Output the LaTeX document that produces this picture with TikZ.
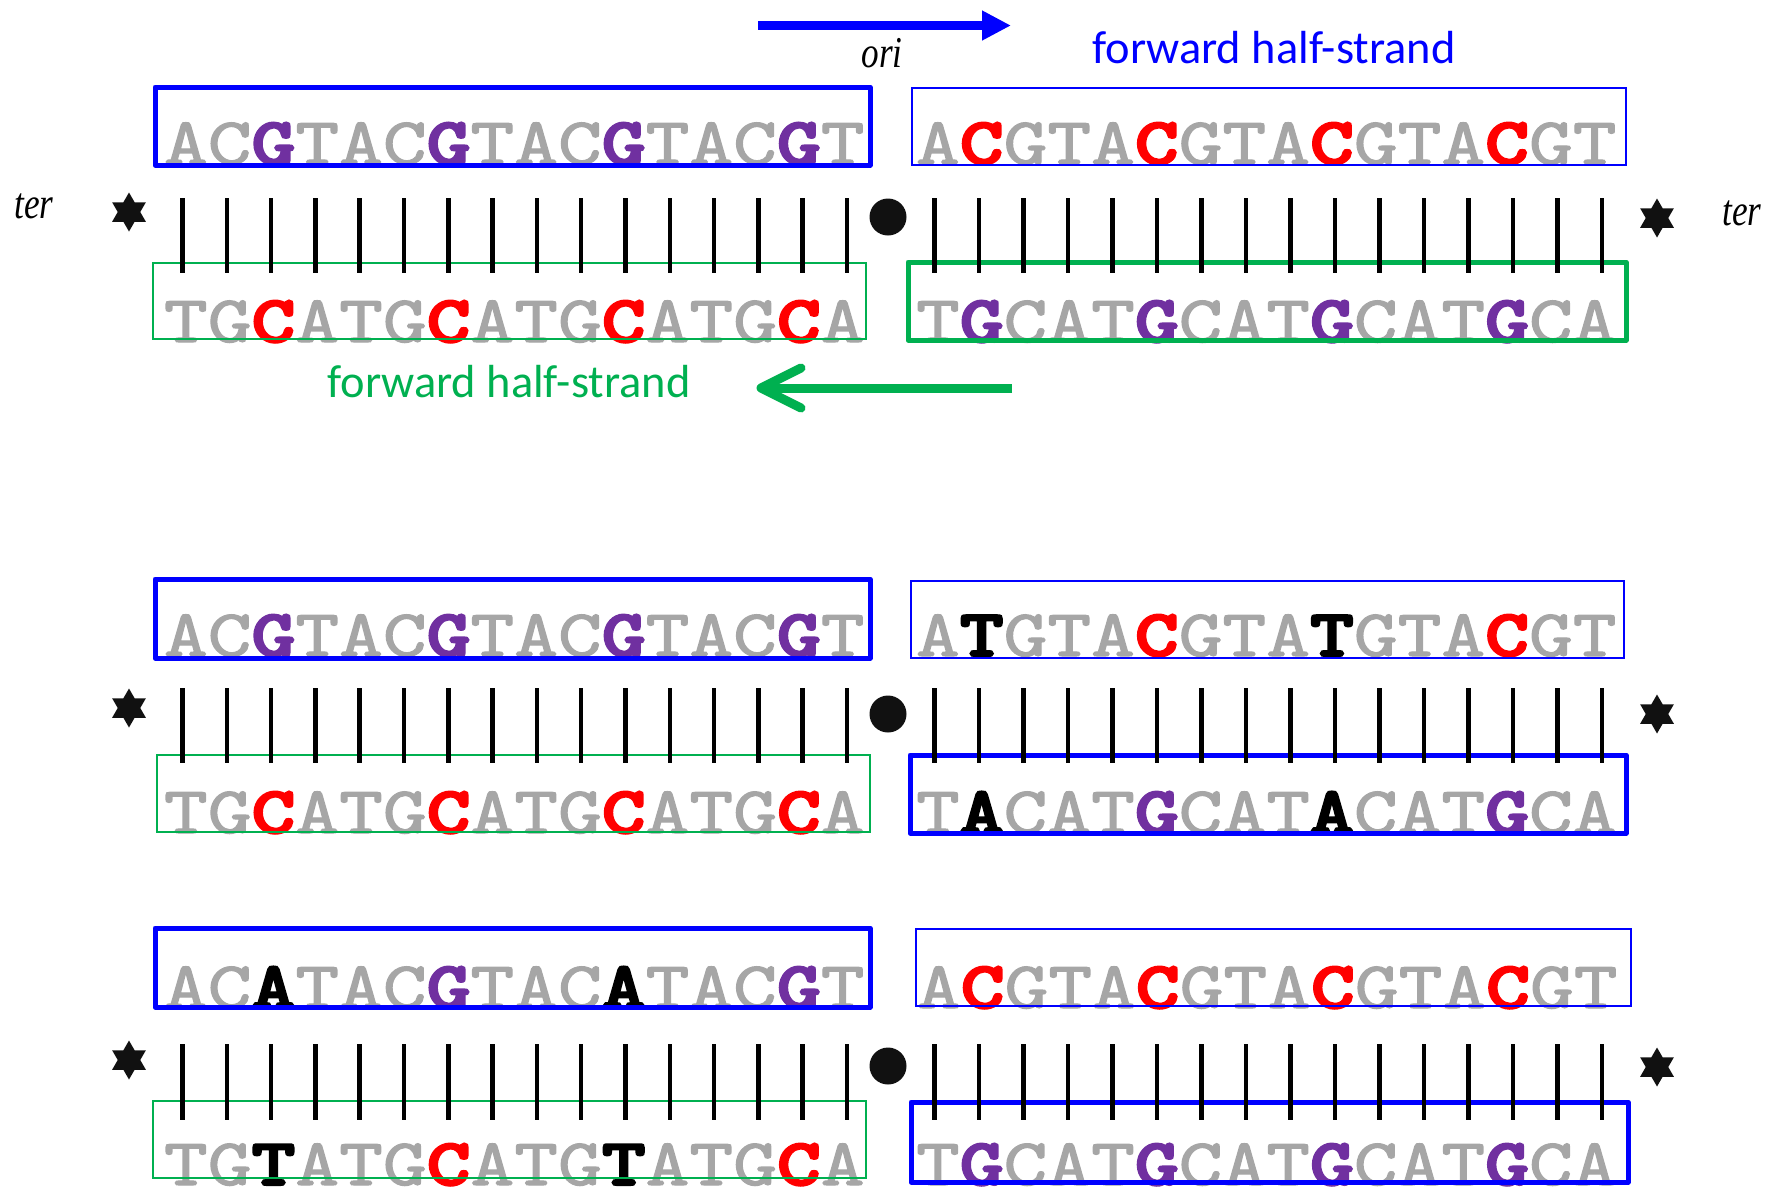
\documentclass[tikz,border=0pt]{standalone}
\usepackage{fontspec}
\usetikzlibrary{shapes.geometric,arrows.meta}
\newfontfamily\seqreg[FakeBold=1.6]{lmmono10-regular.otf}
\newfontfamily\seqbf[FakeBold=3]{lmmonolt10-bold.otf}
\newfontfamily\labfont{Carlito}
\newfontfamily\itlab{Liberation Serif Italic}
\definecolor{seqgrey}{HTML}{A6A6A6}
\definecolor{seqpurple}{HTML}{7030A0}
\definecolor{seqred}{HTML}{FF0000}
\definecolor{seqblue}{HTML}{0000FF}
\definecolor{seqgreen}{HTML}{00B050}
\definecolor{markblack}{HTML}{111111}
\newcommand\sP[1]{{\seqbf\color{seqpurple}#1}}
\newcommand\sR[1]{{\seqbf\color{seqred}#1}}
\newcommand\sK[1]{{\seqbf\color{black}#1}}
\newcommand\seqtext[1]{\scalebox{1}[0.8]{#1}}
\tikzset{
  seq/.style={inner sep=0pt, outer sep=0pt, anchor=base west, text=seqgrey,
    font=\seqreg\fontsize{41.7}{41.7}\selectfont},
  thickbox/.style={line width=2.5pt, line join=round},
  thinbox/.style={line width=0.75pt},
  basebar/.style={line width=2.25pt, black},
  hexstar/.style={star, star points=6, star point ratio=1.732, fill=markblack,
    inner sep=0pt, minimum size=19.5pt},
  oridot/.style={ellipse, fill=markblack, inner sep=0pt, minimum width=18.5pt, minimum height=18.5pt},
  strandlab/.style={inner sep=0pt, anchor=base, font=\labfont\fontsize{23.2}{23.2}\selectfont},
  itlabel/.style={inner sep=0pt, anchor=base, font=\itlab\fontsize{22}{22}\selectfont},
}
% name, x, baseline y, letters
\newcommand\seqrow[4]{%
  \node[seq] (#1) at (#2,#3) {\seqtext{#4}};}
\begin{document}
\begin{tikzpicture}[x=0.5pt, y=-0.5pt]
\useasboundingbox (0,0) rectangle (1776,1190);

% ---------------- top labels and arrows
\coordinate (ba1) at (758,25.5);
\coordinate (ba2) at (1011,25.5);
\draw[seqblue, line width=4.5pt, -{Triangle[length=14.5pt,width=14pt]}] (ba1) -- (ba2);
\node[itlabel] (ori) at (882,67) {\scalebox{0.8}[1]{ori}};
\node[strandlab, text=seqblue] (fwdtop) at (1274,63) {forward half-strand};
\node[strandlab, text=seqgreen] (fwdbot) at (509,397) {forward half-strand};
\coordinate (ga1) at (1012,388);
\coordinate (ga2) at (763,388);
\coordinate (gtip) at (761,388);
\coordinate (gc1) at (801,368);
\coordinate (gc2) at (801,408);
\draw[seqgreen, line width=4.5pt] (ga1) -- (ga2);
\draw[seqgreen, line width=4.5pt, line join=round, line cap=round] (gc1) -- (gtip) -- (gc2);
\node[itlabel] (terL) at (34,218) {\scalebox{0.8}[1]{ter}};
\node[itlabel] (terR) at (1742,225) {\scalebox{0.8}[1]{ter}};

% ---------------- panel 1
\seqrow{a1ul}{164}{164}{AC\sP{G}TAC\sP{G}TAC\sP{G}TAC\sP{G}T}
\seqrow{a1ur}{916}{164}{A\sR{C}GTA\sR{C}GTA\sR{C}GTA\sR{C}GT}
\seqrow{a1ll}{164}{342}{TG\sR{C}ATG\sR{C}ATG\sR{C}ATG\sR{C}A}
\seqrow{a1lr}{916}{342}{T\sP{G}CAT\sP{G}CAT\sP{G}CAT\sP{G}CA}
\draw[seqblue, thickbox] (155,87) rectangle (870,165);
\draw[seqblue, thinbox] (912,88) rectangle (1626,165);
\draw[seqgreen, thinbox] (153,263) rectangle (866,339);
\draw[seqgreen, thickbox] (908,262) rectangle (1626,340);
\foreach \i in {0,...,15} {
  \draw[basebar] (182.5+44.3*\i,198) -- (182.5+44.3*\i,273);
  \draw[basebar] (934.5+44.5*\i,198) -- (934.5+44.5*\i,273);
}
\node[hexstar] (s1l) at (129,212) {};
\node[hexstar] (s1r) at (1657,218) {};
\node[oridot] (d1) at (888,217) {};

% ---------------- panel 2
\seqrow{a2ul}{164}{656}{AC\sP{G}TAC\sP{G}TAC\sP{G}TAC\sP{G}T}
\seqrow{a2ur}{916}{656}{A\sK{T}GTA\sR{C}GTA\sK{T}GTA\sR{C}GT}
\seqrow{a2ll}{164}{833}{TG\sR{C}ATG\sR{C}ATG\sR{C}ATG\sR{C}A}
\seqrow{a2lr}{916}{833}{T\sK{A}CAT\sP{G}CAT\sK{A}CAT\sP{G}CA}
\draw[seqblue, thickbox] (155,579) rectangle (870,658);
\draw[seqblue, thinbox] (911,581) rectangle (1624,658);
\draw[seqgreen, thinbox] (157,755) rectangle (870,832);
\draw[seqblue, thickbox] (910,755) rectangle (1626,833);
\foreach \i in {0,...,15} {
  \draw[basebar] (182.5+44.3*\i,688) -- (182.5+44.3*\i,763);
  \draw[basebar] (934.5+44.5*\i,688) -- (934.5+44.5*\i,763);
}
\node[hexstar] (s2l) at (129,708) {};
\node[hexstar] (s2r) at (1657,714) {};
\node[oridot] (d2) at (888,714) {};

% ---------------- panel 3
\seqrow{a3ul}{164}{1008}{AC\sK{A}TAC\sP{G}TAC\sK{A}TAC\sP{G}T}
\seqrow{a3ur}{917}{1008}{A\sR{C}GTA\sR{C}GTA\sR{C}GTA\sR{C}GT}
\seqrow{a3ll}{164}{1185}{TG\sK{T}ATG\sR{C}ATG\sK{T}ATG\sR{C}A}
\seqrow{a3lr}{916}{1185}{T\sP{G}CAT\sP{G}CAT\sP{G}CAT\sP{G}CA}
\draw[seqblue, thickbox] (155,928) rectangle (870,1007);
\draw[seqblue, thinbox] (916,929) rectangle (1631,1006);
\draw[seqgreen, thinbox] (153,1101) rectangle (866,1178);
\draw[seqblue, thickbox] (911,1102) rectangle (1628,1182);
\foreach \i in {0,...,15} {
  \draw[basebar] (182.5+44.3*\i,1044) -- (182.5+44.3*\i,1120);
  \draw[basebar] (934.5+44.5*\i,1044) -- (934.5+44.5*\i,1120);
}
\node[hexstar] (s3l) at (129,1060) {};
\node[hexstar] (s3r) at (1657,1067) {};
\node[oridot] (d3) at (888,1066) {};
\end{tikzpicture}
\end{document}
